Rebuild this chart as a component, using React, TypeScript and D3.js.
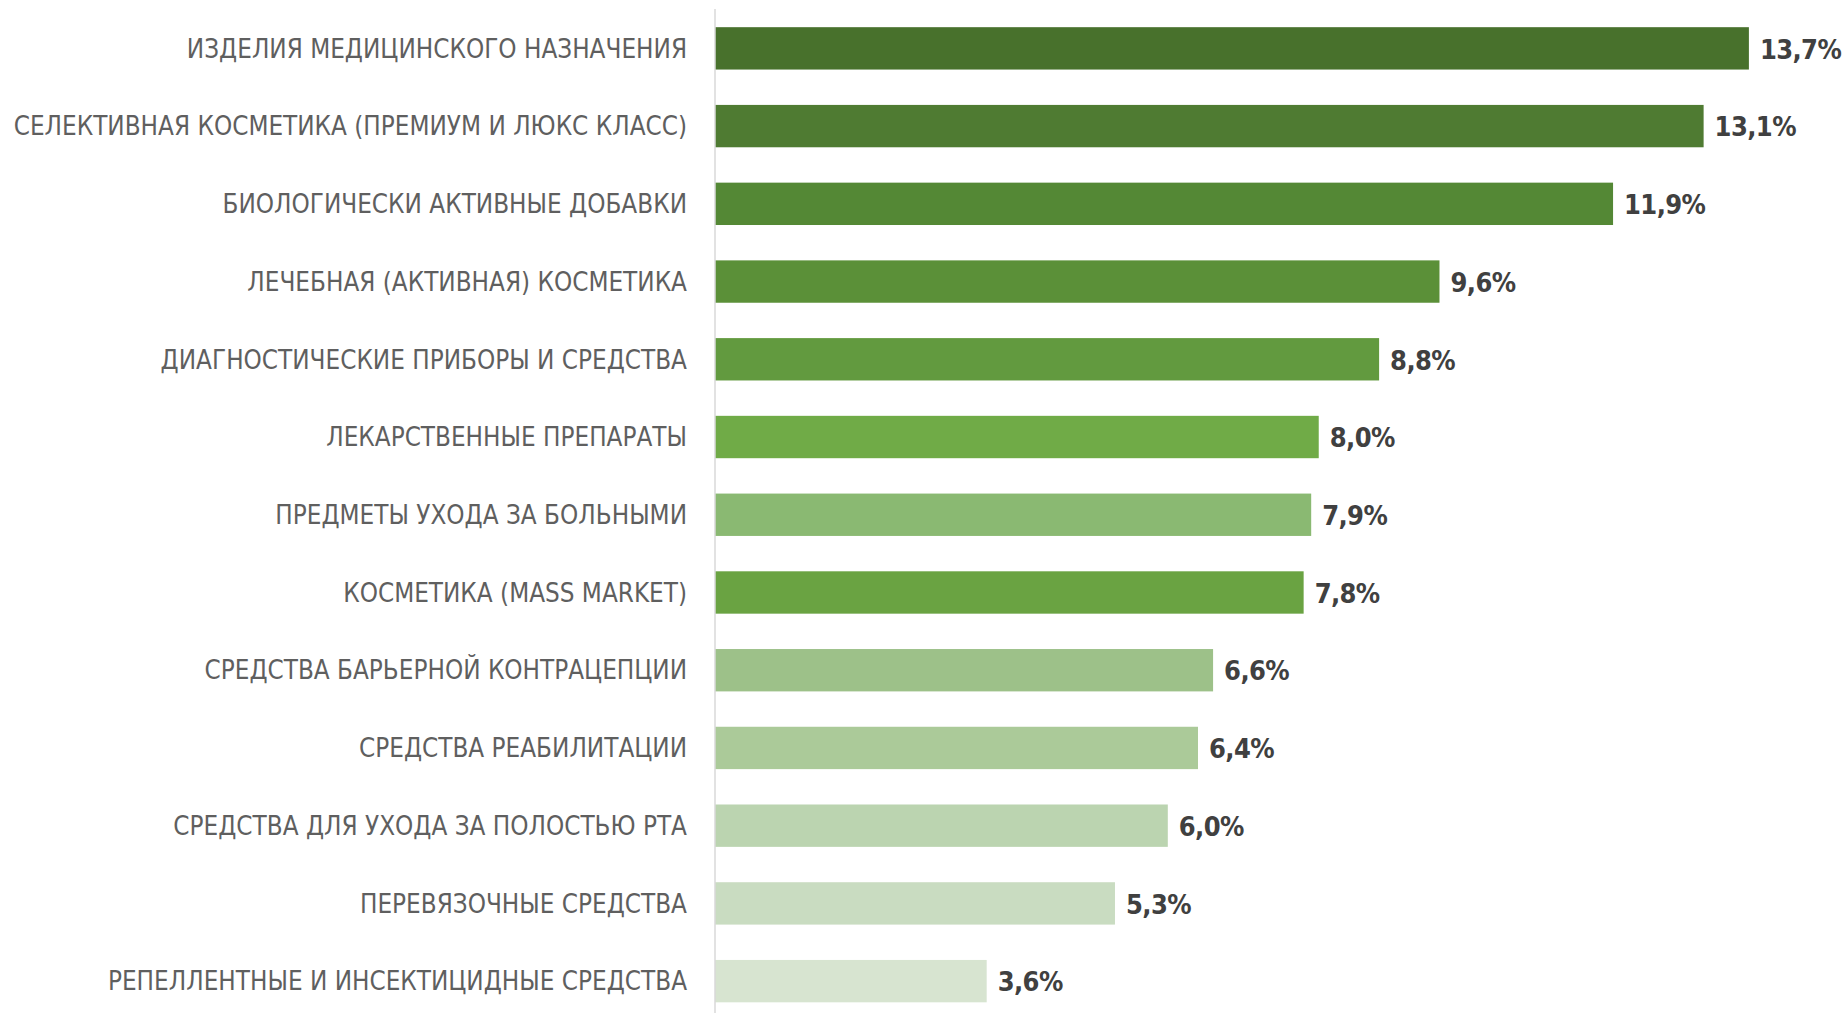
import React from 'react';
import { scaleBand, scaleLinear } from 'd3';

const categories = [
  'ИЗДЕЛИЯ МЕДИЦИНСКОГО НАЗНАЧЕНИЯ',
  'СЕЛЕКТИВНАЯ КОСМЕТИКА (ПРЕМИУМ И ЛЮКС КЛАСС)',
  'БИОЛОГИЧЕСКИ АКТИВНЫЕ ДОБАВКИ',
  'ЛЕЧЕБНАЯ (АКТИВНАЯ) КОСМЕТИКА',
  'ДИАГНОСТИЧЕСКИЕ ПРИБОРЫ И СРЕДСТВА',
  'ЛЕКАРСТВЕННЫЕ ПРЕПАРАТЫ',
  'ПРЕДМЕТЫ УХОДА ЗА БОЛЬНЫМИ',
  'КОСМЕТИКА (MASS MARKET)',
  'СРЕДСТВА БАРЬЕРНОЙ КОНТРАЦЕПЦИИ',
  'СРЕДСТВА РЕАБИЛИТАЦИИ',
  'СРЕДСТВА ДЛЯ УХОДА ЗА ПОЛОСТЬЮ РТА',
  'ПЕРЕВЯЗОЧНЫЕ СРЕДСТВА',
  'РЕПЕЛЛЕНТНЫЕ И ИНСЕКТИЦИДНЫЕ СРЕДСТВА',
];

const values = [13.7, 13.1, 11.9, 9.6, 8.8, 8.0, 7.9, 7.8, 6.6, 6.4, 6.0, 5.3, 3.6];

const colors = [
  '#48712c', '#4f7b32', '#548835', '#5b9038', '#629a3f', '#70ab47', '#8ab972',
  '#6aa342', '#9dc189', '#abca99', '#bbd4b0', '#c9dcc1', '#d7e4d0',
];

const W = 1847;
const H = 1013;
const axisX = 715;
const font = "'DejaVu Sans Condensed', 'Liberation Sans Narrow', sans-serif";

const fmt = (v: number) => v.toFixed(1).replace('.', ',') + '%';

const App = () => {
  const x = scaleLinear().domain([0, 15]).range([axisX, W]);
  const y = scaleBand<number>()
    .domain(values.map((v, i) => i))
    .range([9.5, 1020])
    .paddingInner(0.455)
    .paddingOuter(0.2275);

  return (
    <svg width={W} height={H} style={{ position: 'absolute', left: 0, top: 0, background: '#fff' }}>
      {values.map((v, i) => (
        <g key={i}>
          <rect
            x={x(0)}
            y={y(i)}
            width={x(v) - x(0)}
            height={y.bandwidth()}
            fill={colors[i]}
          />
          <text
            x={axisX - 28}
            y={(y(i) as number) + y.bandwidth() / 2}
            dy="0.36em"
            textAnchor="end"
            fontFamily={font}
            fontSize={25.8}
            fill="#5f5f5f"
          >
            {categories[i]}
          </text>
          <text
            x={x(v) + 11}
            y={(y(i) as number) + y.bandwidth() / 2}
            dy="0.38em"
            fontFamily={font}
            fontWeight="bold"
            fontSize={27}
            letterSpacing={-0.6}
            fill="#404040"
          >
            {fmt(v)}
          </text>
        </g>
      ))}
      <line x1={axisX} x2={axisX} y1={9} y2={H} stroke="#d9d9d9" strokeWidth={1.5} />
    </svg>
  );
};

export default App;
